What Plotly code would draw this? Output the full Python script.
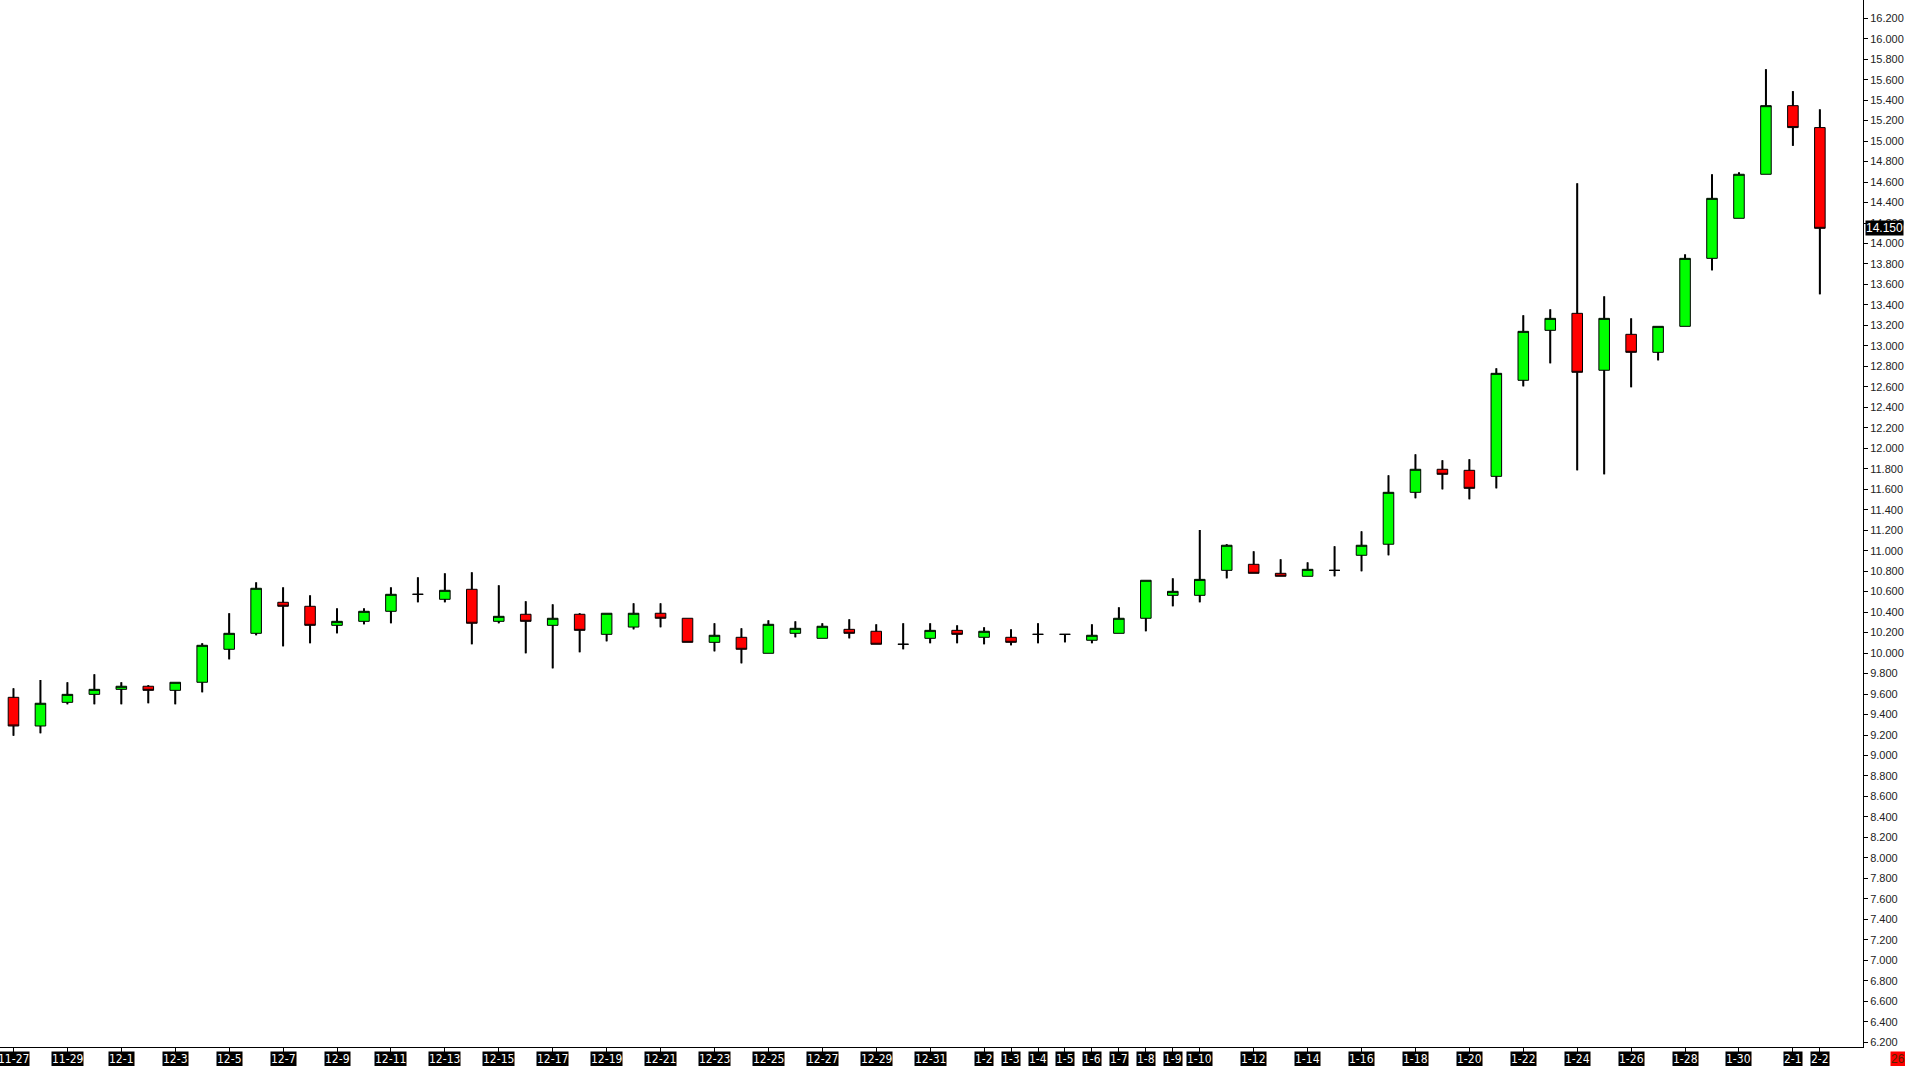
import plotly.graph_objects as go

# ---- data ----
dates = ["11-27","11-28","11-29","11-30","12-1","12-2","12-3","12-4","12-5","12-6",
         "12-7","12-8","12-9","12-10","12-11","12-12","12-13","12-14","12-15","12-16",
         "12-17","12-18","12-19","12-20","12-21","12-22","12-23","12-24","12-25","12-26",
         "12-27","12-28","12-29","12-30","12-31","1-1","1-2","1-3","1-4","1-5",
         "1-6","1-7","1-8","1-9","1-10","1-11","1-12","1-13","1-14","1-15",
         "1-16","1-17","1-18","1-19","1-20","1-21","1-22","1-23","1-24","1-25",
         "1-26","1-27","1-28","1-29","1-30","1-31","2-1","2-2"]

opens = [9.568, 9.288, 9.519, 9.597, 9.646, 9.676, 9.636, 9.715, 10.037, 10.193,
         10.496, 10.457, 10.271, 10.310, 10.408, 10.574, 10.525, 10.623, 10.310, 10.379,
         10.271, 10.379, 10.183, 10.254, 10.389, 10.340, 10.105, 10.154, 9.998, 10.193,
         10.144, 10.232, 10.213, 10.086, 10.144, 10.222, 10.154, 10.154, 10.183, 10.183,
         10.125, 10.193, 10.340, 10.564, 10.564, 10.808, 10.867, 10.779, 10.750, 10.808,
         10.955, 11.063, 11.570, 11.795, 11.785, 11.726, 12.664, 13.152, 13.318, 12.762,
         13.113, 12.937, 13.191, 13.855, 14.246, 14.676, 15.346, 15.132]
highs = [9.656, 9.737, 9.715, 9.793, 9.715, 9.686, 9.715, 10.096, 10.389, 10.691,
         10.642, 10.564, 10.437, 10.437, 10.642, 10.740, 10.779, 10.789, 10.662, 10.506,
         10.476, 10.389, 10.389, 10.486, 10.486, 10.340, 10.291, 10.242, 10.320, 10.310,
         10.291, 10.330, 10.281, 10.291, 10.291, 10.271, 10.252, 10.232, 10.291, 10.183,
         10.281, 10.447, 10.711, 10.730, 11.202, 11.063, 10.994, 10.916, 10.886, 11.043,
         11.189, 11.736, 11.941, 11.883, 11.893, 12.781, 13.299, 13.357, 14.588, 13.484,
         13.269, 13.191, 13.894, 14.676, 14.695, 15.702, 15.488, 15.310]
lows = [9.193, 9.217, 9.500, 9.500, 9.500, 9.510, 9.500, 9.617, 9.939, 10.174,
        10.066, 10.096, 10.193, 10.281, 10.291, 10.496, 10.496, 10.086, 10.291, 9.998,
        9.851, 10.008, 10.115, 10.232, 10.252, 10.105, 10.017, 9.900, 9.998, 10.154,
        10.144, 10.144, 10.086, 10.037, 10.096, 10.096, 10.086, 10.076, 10.096, 10.105,
        10.096, 10.193, 10.213, 10.457, 10.496, 10.730, 10.779, 10.750, 10.750, 10.750,
        10.799, 10.955, 11.512, 11.599, 11.502, 11.609, 12.605, 12.830, 11.785, 11.746,
        12.596, 12.859, 13.191, 13.738, 14.246, 14.676, 14.954, 13.504]
closes = [9.288, 9.510, 9.597, 9.646, 9.676, 9.636, 9.715, 10.076, 10.193, 10.633,
          10.457, 10.271, 10.310, 10.408, 10.574, 10.574, 10.613, 10.291, 10.359, 10.310,
          10.340, 10.222, 10.389, 10.389, 10.340, 10.105, 10.174, 10.037, 10.281, 10.242,
          10.262, 10.193, 10.086, 10.086, 10.222, 10.183, 10.213, 10.105, 10.183, 10.183,
          10.174, 10.340, 10.711, 10.603, 10.720, 11.053, 10.779, 10.750, 10.818, 10.808,
          11.053, 11.570, 11.795, 11.746, 11.609, 12.732, 13.142, 13.269, 12.742, 13.269,
          12.937, 13.191, 13.855, 14.441, 14.676, 15.346, 15.132, 14.148]

tick_labels = ["11-27","11-29","12-1","12-3","12-5","12-7","12-9","12-11","12-13","12-15",
               "12-17","12-19","12-21","12-23","12-25","12-27","12-29","12-31","1-2","1-3",
               "1-4","1-5","1-6","1-7","1-8","1-9","1-10","1-12","1-14","1-16",
               "1-18","1-20","1-22","1-24","1-26","1-28","1-30","2-1","2-2"]
last_price_label = "14.150"
corner_label = "26"

# ---- build ----
xs = list(range(len(dates)))
tick_vals = [dates.index(t) for t in tick_labels]

# wick segments outside the bodies (thicker than body outline)
wx, wy = [], []
for i, (o, h, l, c) in enumerate(zip(opens, highs, lows, closes)):
    top, bot = max(o, c), min(o, c)
    wx += [i, i, None, i, i, None]
    wy += [h, top, None, bot, l, None]

fig = go.Figure()
fig.add_trace(go.Candlestick(
    x=xs, open=opens, high=highs, low=lows, close=closes,
    increasing=dict(fillcolor="#00FF00", line=dict(color="black", width=1)),
    decreasing=dict(fillcolor="#FF0000", line=dict(color="black", width=1)),
    whiskerwidth=0, hoverinfo="skip", showlegend=False,
))
fig.add_trace(go.Scatter(
    x=wx, y=wy, mode="lines", line=dict(color="black", width=2),
    hoverinfo="skip", showlegend=False,
))

label_font = dict(family="Liberation Sans Narrow, DejaVu Sans Condensed, Arial", size=12, color="white")
annotations = []
for v, t in zip(tick_vals, tick_labels):
    annotations.append(dict(
        x=v, y=0, xref="x", yref="paper", yanchor="top", xanchor="center",
        yshift=-4, text=t, showarrow=False, bgcolor="black", borderpad=0,
        font=label_font,
    ))
annotations.append(dict(
    x=1.0, y=closes[-1], xref="paper", yref="y", xanchor="left", yanchor="middle",
    xshift=2, text=last_price_label, showarrow=False, bgcolor="black", borderpad=0,
    font=dict(family="Liberation Sans, Arial", size=12, color="white"),
))
annotations.append(dict(
    x=1.0, y=0, xref="paper", yref="paper", xanchor="left", yanchor="top",
    xshift=27, yshift=-4, text=corner_label, showarrow=False, bgcolor="#FF0000",
    borderpad=0, font=dict(family="Liberation Sans Narrow, Arial", size=12, color="#552200"),
))

fig.update_layout(
    width=1905, height=1066,
    margin=dict(l=0, r=42, t=0, b=19),
    paper_bgcolor="white", plot_bgcolor="white",
    boxgap=0.44,
    showlegend=False,
    annotations=annotations,
    xaxis=dict(
        range=[-0.5, 68.6], showgrid=False, zeroline=False,
        showline=True, linecolor="black", linewidth=1,
        ticks="outside", ticklen=4, tickcolor="black",
        tickvals=tick_vals, showticklabels=False,
        rangeslider=dict(visible=False), fixedrange=True,
    ),
    yaxis=dict(
        side="right", range=[6.153, 16.378], showgrid=False, zeroline=False,
        showline=True, linecolor="black", linewidth=1,
        ticks="outside", ticklen=4, tickcolor="black",
        tick0=6.2, dtick=0.2, tickformat=".3f",
        tickfont=dict(family="Liberation Sans, Arial", size=11, color="#222222"),
        fixedrange=True,
    ),
)

fig.write_html(
    "out.html",
    config={"displayModeBar": False},
    post_script="document.body.style.margin='0';document.body.style.overflow='hidden';",
)
